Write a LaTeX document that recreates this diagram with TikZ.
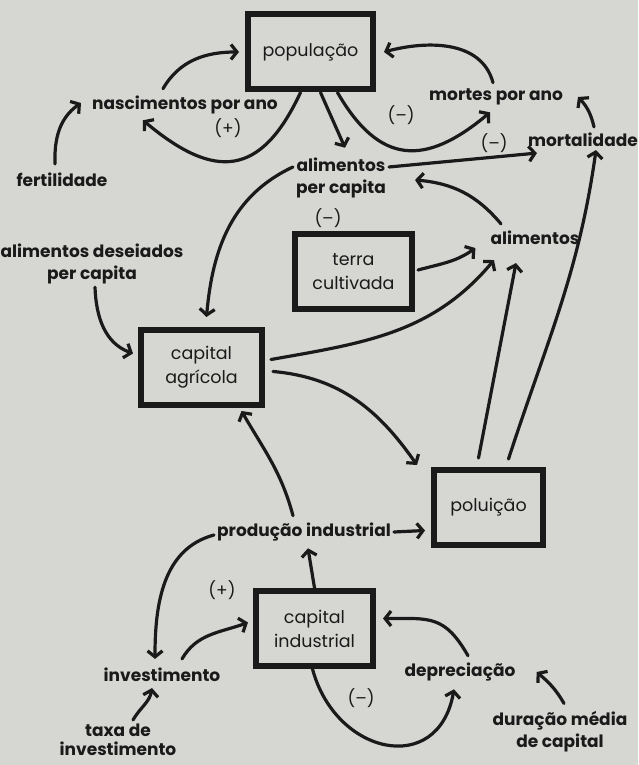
\documentclass[tikz,border=0pt]{standalone}
\usepackage{fontspec}
\setmainfont{Poppins}
\usetikzlibrary{arrows.meta}
\definecolor{paper}{RGB}{214,214,211}
\definecolor{ink}{RGB}{26,26,26}
\tikzset{
    stockbox/.style={rectangle, draw=ink, line width=6pt, minimum width=#1, minimum height=75pt, align=center, text=ink, inner sep=2pt, font=\fontsize{17.5}{24}\selectfont},
    auxlabel/.style={align=center, text=ink, inner sep=3pt, font=\bfseries\fontsize{17}{22}\selectfont},
    signlabel/.style={text=ink, inner sep=1pt, font=\fontsize{17}{20}\selectfont},
    flowarrow/.style={draw=ink, line width=3.2pt, line cap=round, line join=round, -{Straight Barb[length=6pt,width=15pt]}}
}

\begin{document}
\begin{tikzpicture}[x=1pt, y=1pt]

\fill[paper] (0,0) rectangle (638,765);
\useasboundingbox (0,0) rectangle (638,765);

\node[stockbox=125pt] (pop) at (310.5,713) {população};
\node[stockbox=117pt] (terra) at (353.5,493) {terra\\cultivada};
\node[stockbox=121pt] (capagr) at (201.5,397.5) {capital\\agrícola};
\node[stockbox=109pt] (polu) at (488.5,257.5) {poluição};
\node[stockbox=117pt] (capind) at (314.5,136.5) {capital\\industrial};

\node[auxlabel] (nasc) at (185,660) {nascimentos por ano};
\node[auxlabel] (mortes) at (496,668) {mortes por ano};
\node[auxlabel] (mortal) at (583,625) {mortalidade};
\node[auxlabel] (fert) at (62,585) {fertilidade};
\node[auxlabel] (alpc) at (341,587) {alimentos\\per capita};
\node[auxlabel] (alim) at (535,527) {alimentos};
\node[auxlabel] (aldes) at (92,501) {alimentos deseiados\\per capita};
\node[auxlabel] (prod) at (304,233) {produção industrial};
\node[auxlabel] (invest) at (162,90) {investimento};
\node[auxlabel] (depr) at (460,93) {depreciação};
\node[auxlabel, font=\bfseries\fontsize{17}{19}\selectfont] (taxa) at (118,25) {taxa de\\investimento};
\node[auxlabel] (dura) at (560,33) {duração média\\de capital};

\node[signlabel] (plusA) at (228,637) {(+)};
\node[signlabel] (minusA) at (401,650) {(–)};
\node[signlabel] (minusB) at (494,622) {(–)};
\node[signlabel] (minusC) at (328,547) {(–)};
\node[signlabel] (plusB) at (222,175) {(+)};
\node[signlabel] (minusD) at (361,67) {(–)};

\draw[flowarrow] ([xshift=-7pt,yshift=6pt]fert.north) to[out=92,in=215] ([xshift=-8pt,yshift=2pt]nasc.west);
\draw[flowarrow] ([xshift=-22pt,yshift=4pt]nasc.north) to[out=60,in=180] ([xshift=-6pt]pop.west);
\draw[flowarrow] ([xshift=-10pt]pop.south) to[out=-115,in=-40,looseness=1.5] ([xshift=-42pt,yshift=-3pt]nasc.south);
\draw[flowarrow] ([xshift=10pt]pop.south) -- ([xshift=4pt,yshift=7pt]alpc.north);
\draw[flowarrow] ([xshift=27pt]pop.south) to[out=-60,in=220,looseness=1.4] ([xshift=-6pt,yshift=-4pt]mortes.south);
\draw[flowarrow] ([xshift=-3pt,yshift=3pt]mortes.north) to[out=105,in=15] ([xshift=8pt]pop.east);
\draw[flowarrow] ([xshift=11pt,yshift=3pt]mortal.north) to[bend right=15] ([xshift=12pt]mortes.east);
\draw[flowarrow] ([yshift=11pt]alpc.east) -- ([xshift=12pt,yshift=-3pt]mortal.south west);
\draw[flowarrow] ([xshift=-34pt,yshift=4pt]alim.north) to[out=130,in=-5] ([xshift=26pt,yshift=-2pt]alpc.east);
\draw[flowarrow] ([yshift=11pt]alpc.west) to[out=205,in=85] ([xshift=5pt,yshift=10pt]capagr.north);
\draw[flowarrow] ([xshift=3pt]aldes.south) to[out=-88,in=160] ([xshift=-5pt,yshift=14pt]capagr.west);
\draw[flowarrow] ([xshift=3pt,yshift=2pt]terra.east) to[out=15,in=215] ([xshift=-12pt]alim.south west);
\draw[flowarrow] ([xshift=6pt,yshift=8pt]capagr.east) to[out=10,in=230] ([xshift=-41pt,yshift=-12pt]alim.south);
\draw[flowarrow] ([xshift=-10pt,yshift=9pt]polu.north) -- ([xshift=-19pt,yshift=-15pt]alim.south);
\draw[flowarrow] ([xshift=20pt,yshift=8pt]polu.north) to[out=72,in=-98] ([xshift=13pt]mortal.south);
\draw[flowarrow] ([xshift=8pt,yshift=-4pt]capagr.east) to[out=-5,in=125] ([xshift=-14pt,yshift=2pt]polu.north west);
\draw[flowarrow] ([xshift=-11pt,yshift=4pt]prod.north) to[out=105,in=-60] ([xshift=40pt,yshift=-3pt]capagr.south);
\draw[flowarrow] (prod.east) -- ([xshift=-6pt,yshift=-23pt]polu.west);
\draw[flowarrow] (capind.north) -- ([xshift=4pt,yshift=-4pt]prod.south);
\draw[flowarrow] ([yshift=-3pt]prod.west) to[out=195,in=90] ([xshift=-7pt,yshift=6pt]invest.north);
\draw[flowarrow] ([xshift=20pt,yshift=6pt]invest.north) to[out=60,in=200] ([xshift=-5pt,yshift=6pt]capind.west);
\draw[flowarrow] ([xshift=15pt,yshift=1pt]taxa.north) to[out=60,in=-100] ([xshift=-10pt,yshift=-3pt]invest.south);
\draw[flowarrow] ([xshift=8pt,yshift=4pt]depr.north) to[out=120,in=0,looseness=1.3] ([xshift=7pt,yshift=10pt]capind.east);
\draw[flowarrow] ([xshift=-2pt]capind.south) to[out=-75,in=-100,looseness=1.6] ([xshift=-6pt,yshift=-5pt]depr.south);
\draw[flowarrow] ([xshift=4pt,yshift=5pt]dura.north) to[out=120,in=-40] ([xshift=18pt]depr.east);

\end{tikzpicture}
\end{document}
